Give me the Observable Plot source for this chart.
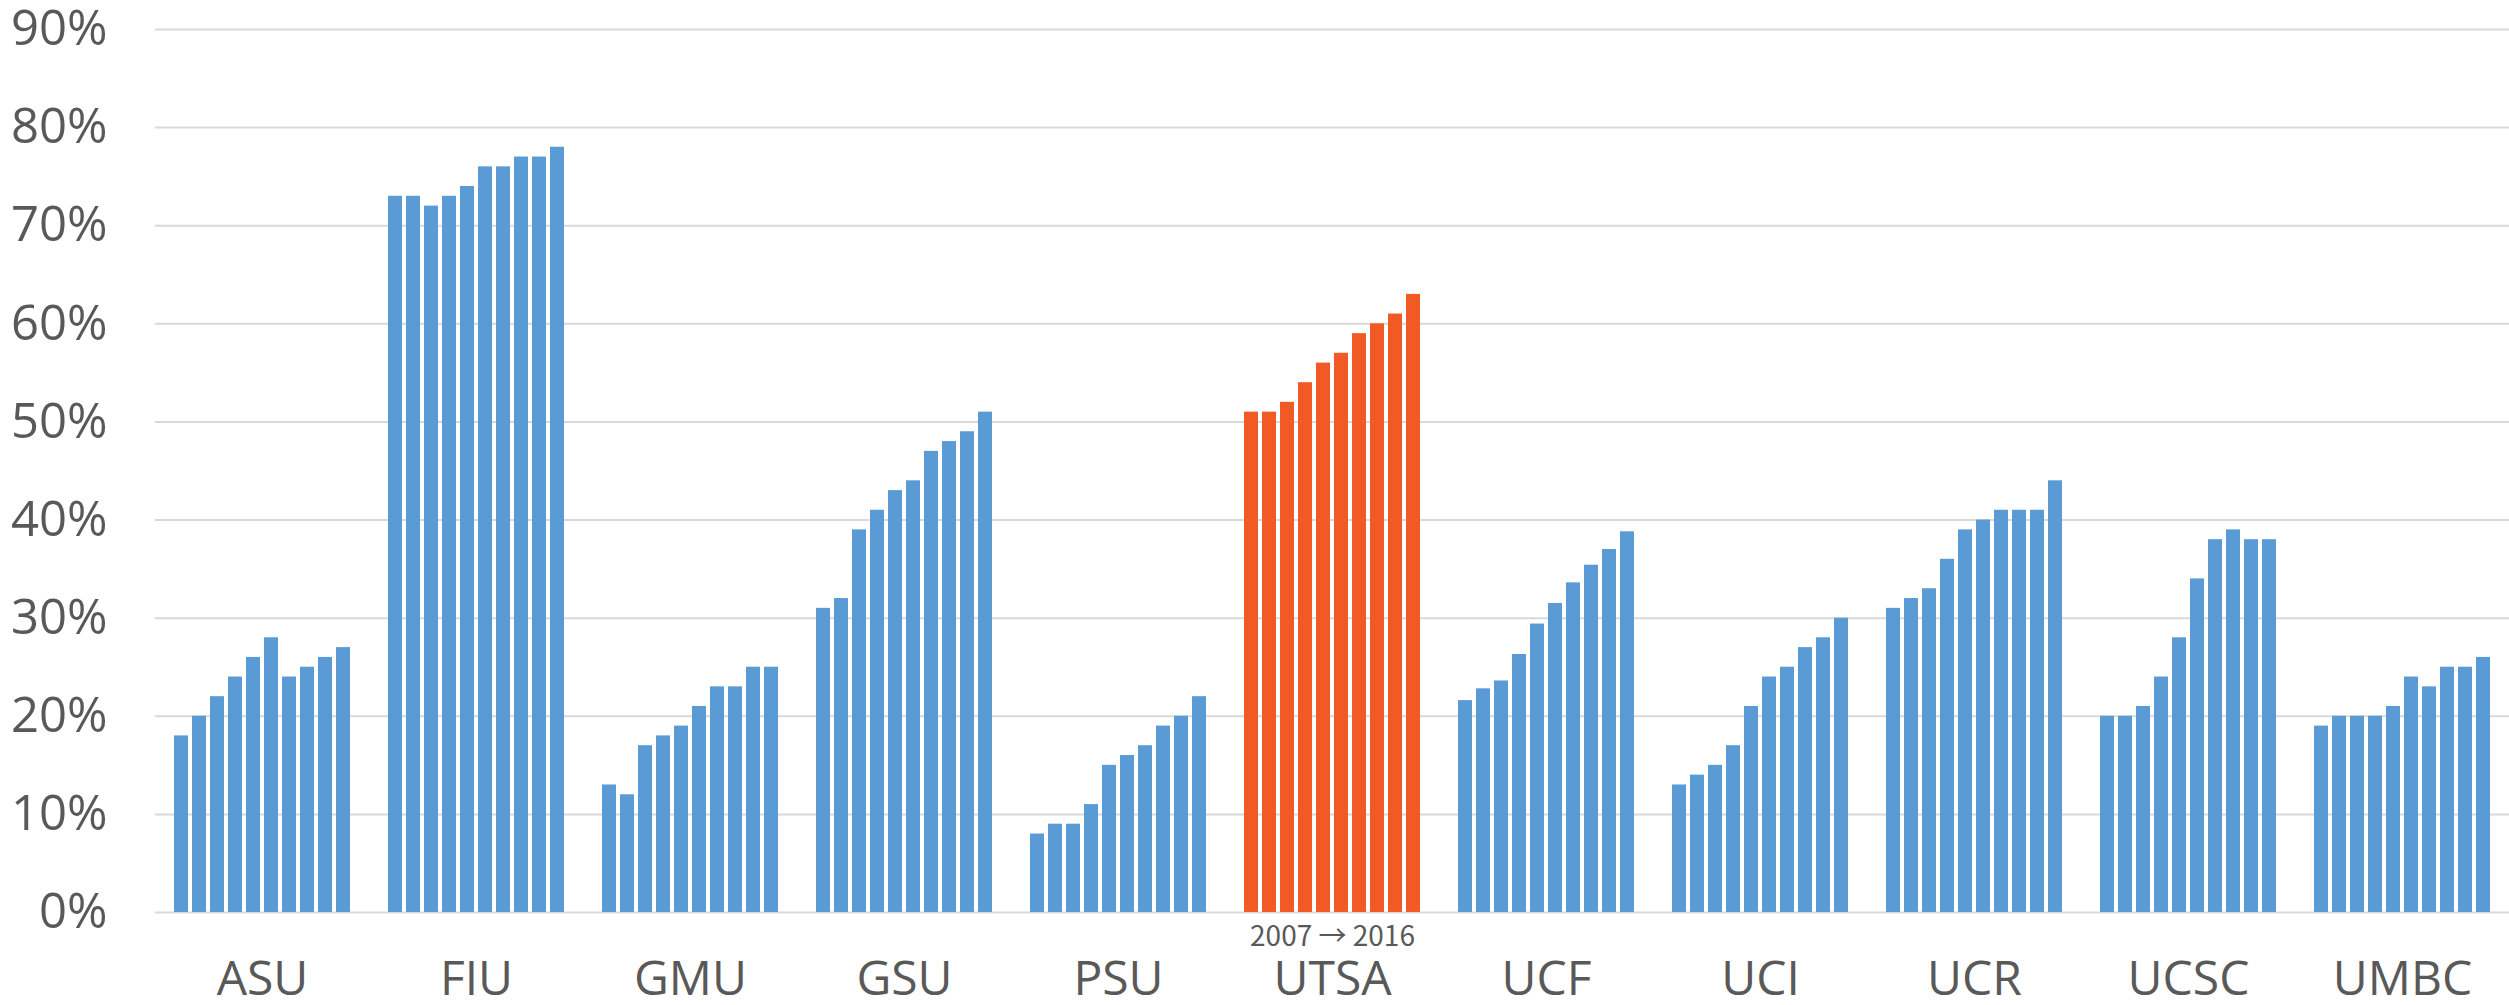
<!DOCTYPE html>
<html>
<head>
<meta charset="utf-8">
<script src="https://cdn.jsdelivr.net/npm/d3@7"></script>
<script src="https://cdn.jsdelivr.net/npm/@observablehq/plot@0.6"></script>
<style>
  html, body { margin: 0; padding: 0; background: #fff; }
  #chart { width: 2509px; height: 1005px; }
</style>
</head>
<body>
<div id="chart"></div>
<script>
const schools = ["ASU", "FIU", "GMU", "GSU", "PSU", "UTSA", "UCF", "UCI", "UCR", "UCSC", "UMBC"];
const years = [2007, 2008, 2009, 2010, 2011, 2012, 2013, 2014, 2015, 2016];
const highlight = "UTSA";
const yTicks = [0, 10, 20, 30, 40, 50, 60, 70, 80, 90];
const rangeLabel = "2007 → 2016";

const ASU  = [18, 20, 22, 24, 26, 28, 24, 25, 26, 27];
const FIU  = [73, 73, 72, 73, 74, 76, 76, 77, 77, 78];
const GMU  = [13, 12, 17, 18, 19, 21, 23, 23, 25, 25];
const GSU  = [31, 32, 39, 41, 43, 44, 47, 48, 49, 51];
const PSU  = [8, 9, 9, 11, 15, 16, 17, 19, 20, 22];
const UTSA = [51, 51, 52, 54, 56, 57, 59, 60, 61, 63];
const UCF  = [21.6, 22.8, 23.6, 26.3, 29.4, 31.5, 33.6, 35.4, 37.0, 38.8];
const UCI  = [13, 14, 15, 17, 21, 24, 25, 27, 28, 30];
const UCR  = [31, 32, 33, 36, 39, 40, 41, 41, 41, 44];
const UCSC = [20, 20, 21, 24, 28, 34, 38, 39, 38, 38];
const UMBC = [19, 20, 20, 20, 21, 24, 23, 25, 25, 26];

const series = {ASU, FIU, GMU, GSU, PSU, UTSA, UCF, UCI, UCR, UCSC, UMBC};
const blue = "#5B9BD5";
const orange = "#F15A24";

const data = schools.flatMap(s => series[s].map((v, i) => ({school: s, year: years[i], value: v})));

const chart = Plot.plot({
  width: 2509,
  height: 1005,
  marginLeft: 155,
  marginRight: 0,
  marginTop: 29,
  marginBottom: 93,
  style: {fontFamily: "'Open Sans', sans-serif", fontSize: "48px", color: "#595959", background: "#fff", overflow: "visible"},
  fx: {domain: schools, paddingInner: 0.15, paddingOuter: 0.075, label: null, axis: null},
  x: {domain: years, paddingInner: 0.23, paddingOuter: 0, axis: null},
  y: {domain: [0, 90], axis: null, label: null},
  marks: [
    Plot.ruleY(yTicks, {y: d => d, stroke: "#d9d9d9", strokeWidth: 2, insetLeft: -16, insetRight: -16}),
    Plot.barY(data, {fx: "school", x: "year", y: "value", fill: d => d.school === highlight ? orange : blue}),
    Plot.axisY({ticks: yTicks, tickSize: 0, tickPadding: 64, tickFormat: d => d + "%", fontSize: 49, fill: "#595959", label: null, facetAnchor: "left"}),
    Plot.axisFx({anchor: "bottom", tickSize: 0, tickPadding: 48, fontSize: 48, fill: "#595959", label: null}),
    Plot.text([{school: highlight, label: rangeLabel}], {fx: "school", text: "label", frameAnchor: "bottom", lineAnchor: "top", dy: 14, fontSize: 28, fontFamily: "'Noto Sans CJK SC', 'Open Sans', sans-serif", fill: "#595959"})
  ]
});
document.getElementById("chart").appendChild(chart);
</script>
</body>
</html>
